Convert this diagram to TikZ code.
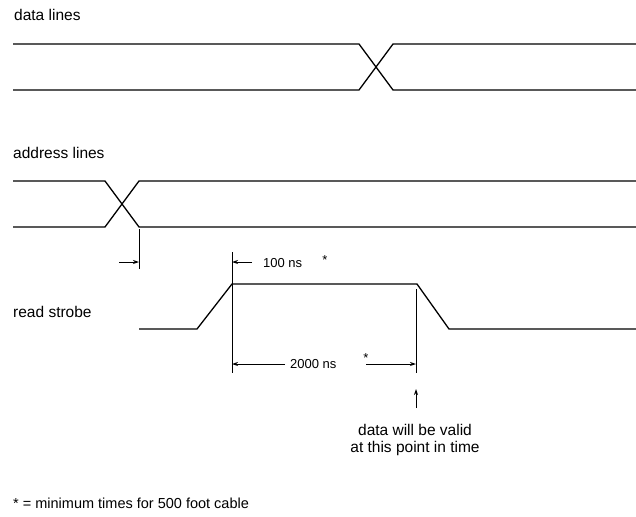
\documentclass[tikz,border=0pt]{standalone}
\usepackage{fontspec}
\setmainfont{Liberation Sans}
\usetikzlibrary{arrows.meta}
\begin{document}
\begin{tikzpicture}[x=1pt,y=-1pt,
  wave/.style={line width=1.3pt, line join=round},
  marker/.style={line width=0.9pt},
  arr/.style={-{Stealth[length=6pt,width=4pt]}, line width=0.9pt},
  lbl/.style={anchor=base west, inner sep=0pt, font=\fontsize{15.5}{18}\selectfont},
  nslbl/.style={anchor=base west, inner sep=0pt, font=\fontsize{13}{15}\selectfont},
  star/.style={anchor=base, inner sep=0pt, font=\fontsize{13}{15}\selectfont},
  note/.style={anchor=base, inner sep=0pt, font=\fontsize{15.5}{18}\selectfont}]
\useasboundingbox (0,0) rectangle (636,516);

% data lines
\coordinate (d1) at (13,44);  \coordinate (d2) at (359,44);
\coordinate (d3) at (393,90); \coordinate (d4) at (636,90);
\coordinate (d5) at (13,90);  \coordinate (d6) at (359,90);
\coordinate (d7) at (393,44); \coordinate (d8) at (636,44);
\draw[wave] (d1) -- (d2) -- (d3) -- (d4);
\draw[wave] (d5) -- (d6) -- (d7) -- (d8);
\node[lbl] (tdata) at (14,20.7) {data lines};

% address lines
\coordinate (a1) at (13,181);  \coordinate (a2) at (105,181);
\coordinate (a3) at (139,227); \coordinate (a4) at (636,227);
\coordinate (a5) at (13,227);  \coordinate (a6) at (105,227);
\coordinate (a7) at (139,181); \coordinate (a8) at (636,181);
\draw[wave] (a1) -- (a2) -- (a3) -- (a4);
\draw[wave] (a5) -- (a6) -- (a7) -- (a8);
\node[lbl] (taddr) at (13,158.5) {address lines};

% read strobe
\coordinate (r1) at (139,329); \coordinate (r2) at (197,329);
\coordinate (r3) at (232,284); \coordinate (r4) at (417,284);
\coordinate (r5) at (449,329); \coordinate (r6) at (636,329);
\draw[wave] (r1) -- (r2) -- (r3) -- (r4) -- (r5) -- (r6);
\node[lbl] (tread) at (13,317) {read strobe};

% marker lines
\coordinate (v1t) at (139,229); \coordinate (v1b) at (139,269);
\coordinate (v2t) at (232,252); \coordinate (v2b) at (232,373);
\coordinate (v3t) at (416,289); \coordinate (v3b) at (416,373);
\draw[marker] (v1t) -- (v1b);
\draw[marker] (v2t) -- (v2b);
\draw[marker] (v3t) -- (v3b);

% 100 ns
\coordinate (p1) at (119,262); \coordinate (p1e) at (139,262);
\coordinate (p2) at (252,262); \coordinate (p2e) at (232,262);
\draw[arr] (p1) -- (p1e);
\draw[arr] (p2) -- (p2e);
\node[nslbl] (t100) at (263,267) {100 ns};
\node[star] (s1) at (325,264.5) {*};

% 2000 ns
\coordinate (q1) at (285,364); \coordinate (q1e) at (232,364);
\coordinate (q2) at (366,364); \coordinate (q2e) at (416,364);
\draw[arr] (q1) -- (q1e);
\draw[arr] (q2) -- (q2e);
\node[nslbl] (t2000) at (290,368) {2000 ns};
\node[star] (s2) at (366,362) {*};

% valid point
\coordinate (u1) at (416,408); \coordinate (u2) at (416,389);
\draw[arr] (u1) -- (u2);
\node[note] (tv1) at (415,435) {data will be valid};
\node[note] (tv2) at (415,452) {at this point in time};

% footnote
\node[anchor=base west, inner sep=0pt, font=\fontsize{14.5}{17}\selectfont] (tfoot) at (13,508) {* = minimum times for 500 foot cable};
\end{tikzpicture}
\end{document}
